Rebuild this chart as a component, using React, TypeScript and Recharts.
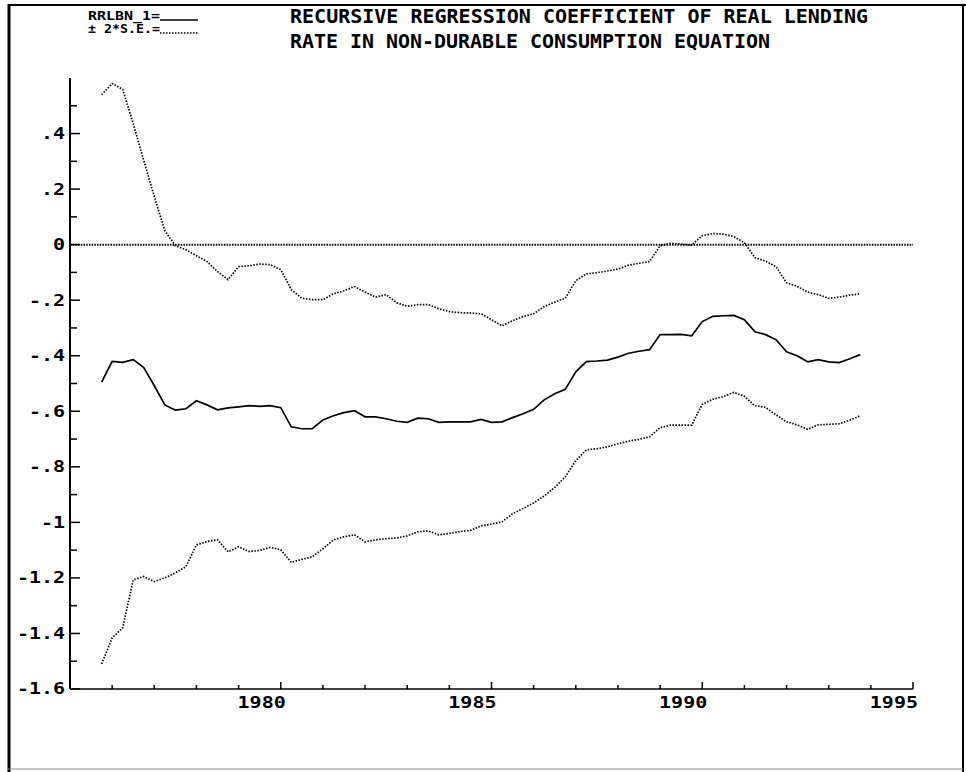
import React from 'react';
import { LineChart, Line, XAxis, YAxis, ReferenceLine } from 'recharts';

// quarterly observations, 1975Q4 .. 1993Q4
const YEARS = [
  1975.75, 1976, 1976.25, 1976.5, 1976.75, 1977, 1977.25, 1977.5, 1977.75, 1978,
  1978.25, 1978.5, 1978.75, 1979, 1979.25, 1979.5, 1979.75, 1980, 1980.25, 1980.5,
  1980.75, 1981, 1981.25, 1981.5, 1981.75, 1982, 1982.25, 1982.5, 1982.75, 1983,
  1983.25, 1983.5, 1983.75, 1984, 1984.25, 1984.5, 1984.75, 1985, 1985.25, 1985.5,
  1985.75, 1986, 1986.25, 1986.5, 1986.75, 1987, 1987.25, 1987.5, 1987.75, 1988,
  1988.25, 1988.5, 1988.75, 1989, 1989.25, 1989.5, 1989.75, 1990, 1990.25, 1990.5,
  1990.75, 1991, 1991.25, 1991.5, 1991.75, 1992, 1992.25, 1992.5, 1992.75, 1993,
  1993.25, 1993.5, 1993.75,
];

const COEF = [
  -0.495, -0.42, -0.424, -0.414, -0.443, -0.508, -0.577, -0.596, -0.591, -0.562,
  -0.577, -0.595, -0.588, -0.584, -0.58, -0.582, -0.58, -0.587, -0.656, -0.663,
  -0.663, -0.631, -0.616, -0.605, -0.598, -0.62, -0.62, -0.627, -0.636, -0.64,
  -0.625, -0.627, -0.64, -0.638, -0.638, -0.638, -0.629, -0.64, -0.638, -0.623,
  -0.609, -0.593, -0.559, -0.537, -0.521, -0.458, -0.421, -0.419, -0.416, -0.405,
  -0.391, -0.384, -0.378, -0.324, -0.324, -0.323, -0.328, -0.277, -0.258, -0.256,
  -0.255, -0.27, -0.314, -0.324, -0.342, -0.386, -0.4, -0.422, -0.414, -0.422,
  -0.425, -0.411, -0.396,
];

const UPPER = [
  0.54, 0.58, 0.559, 0.436, 0.303, 0.173, 0.05, -0.004, -0.018, -0.04,
  -0.061, -0.097, -0.126, -0.079, -0.076, -0.07, -0.072, -0.09, -0.162, -0.193,
  -0.198, -0.198, -0.177, -0.166, -0.151, -0.171, -0.189, -0.18, -0.209, -0.222,
  -0.216, -0.216, -0.231, -0.241, -0.245, -0.246, -0.249, -0.27, -0.292, -0.274,
  -0.259, -0.249, -0.223, -0.207, -0.193, -0.13, -0.105, -0.101, -0.095, -0.088,
  -0.074, -0.067, -0.061, -0.004, 0.005, 0.002, -0.002, 0.032, 0.04, 0.038,
  0.029, 0.007, -0.047, -0.059, -0.079, -0.137, -0.15, -0.171, -0.18, -0.193,
  -0.189, -0.182, -0.177,
];

const LOWER = [
  -1.51, -1.416, -1.38, -1.207, -1.195, -1.213, -1.2, -1.182, -1.16, -1.081,
  -1.069, -1.063, -1.106, -1.088, -1.105, -1.101, -1.09, -1.099, -1.144, -1.133,
  -1.124, -1.095, -1.063, -1.052, -1.045, -1.07, -1.063, -1.059, -1.056, -1.049,
  -1.034, -1.031, -1.045, -1.04, -1.033, -1.029, -1.013, -1.006, -0.998, -0.969,
  -0.95, -0.93, -0.905, -0.874, -0.836, -0.778, -0.739, -0.735, -0.728, -0.717,
  -0.708, -0.701, -0.692, -0.659, -0.65, -0.65, -0.65, -0.575, -0.557, -0.547,
  -0.532, -0.546, -0.58, -0.586, -0.613, -0.638, -0.649, -0.665, -0.649, -0.647,
  -0.645, -0.632, -0.616,
];

const Y_TICKS = [
  -1.6, -1.5, -1.4, -1.3, -1.2, -1.1, -1, -0.9, -0.8, -0.7, -0.6,
  -0.5, -0.4, -0.3, -0.2, -0.1, 0, 0.1, 0.2, 0.3, 0.4, 0.5,
];
const Y_TICK_LABELS = [
  '-1.6', '', '-1.4', '', '-1.2', '', '-1', '', '-.8', '', '-.6',
  '', '-.4', '', '-.2', '', '0', '', '.2', '', '.4', '',
];

const X_TICKS = [
  1976, 1977, 1978, 1979, 1980, 1981, 1982, 1983, 1984, 1985,
  1986, 1987, 1988, 1989, 1990, 1991, 1992, 1993, 1994, 1995,
];
const X_TICK_LABELS = [
  '', '', '', '', '1980', '', '', '', '', '1985',
  '', '', '', '', '1990', '', '', '', '', '1995',
];

const TITLE_1 = 'RECURSIVE REGRESSION COEFFICIENT OF REAL LENDING';
const TITLE_2 = 'RATE IN NON-DURABLE CONSUMPTION EQUATION';
const LEGEND_1 = 'RRLBN_1=';
const LEGEND_2 = '\u00b1 2*S.E.=';

const data = YEARS.map((t, i) => ({ t, coef: COEF[i], upper: UPPER[i], lower: LOWER[i] }));

const MONO = '"DejaVu Sans Mono", "Liberation Mono", monospace';

function YTick(props: any) {
  const { x, y, index } = props;
  const label = Y_TICK_LABELS[index];
  const len = label ? 10 : 7;
  return (
    <g>
      <line x1={x} y1={y} x2={x + len} y2={y} stroke="#000" strokeWidth={1.5} />
      {label ? (
        <text
          transform={`translate(${x - 5},${y}) scale(1,0.75)`}
          textAnchor="end"
          dy="0.36em"
          fontFamily={MONO}
          fontWeight="bold"
          fontSize={20}
          fill="#000"
        >
          {label}
        </text>
      ) : null}
    </g>
  );
}

function XTick(props: any) {
  const { x, y, index } = props;
  const label = X_TICK_LABELS[index];
  const len = label ? 7 : 4;
  return (
    <g>
      <line x1={x} y1={y} x2={x} y2={y - len} stroke="#000" strokeWidth={1.5} />
      {label ? (
        <text
          transform={`translate(${x + 5},${y + 19}) scale(1,0.8)`}
          textAnchor="end"
          fontFamily={MONO}
          fontWeight="bold"
          fontSize={20}
          fill="#000"
        >
          {label}
        </text>
      ) : null}
    </g>
  );
}

export default function App() {
  return (
    <div style={{ position: 'absolute', left: 0, top: 0, width: 966, height: 772, background: '#fff' }}>
      <LineChart
        width={966}
        height={772}
        data={data}
        margin={{ top: 78, right: 53, bottom: 43, left: 10 }}
      >
        <XAxis
          dataKey="t"
          type="number"
          domain={[1975, 1995]}
          ticks={X_TICKS}
          interval={0}
          allowDataOverflow
          height={40}
          tickSize={0}
          tickMargin={0}
          tickLine={false}
          axisLine={{ stroke: '#000', strokeWidth: 1.5 }}
          tick={<XTick />}
        />
        <YAxis
          type="number"
          domain={[-1.6, 0.6]}
          ticks={Y_TICKS}
          interval={0}
          allowDataOverflow
          width={60}
          tickSize={0}
          tickMargin={0}
          tickLine={false}
          axisLine={{ stroke: '#000', strokeWidth: 2 }}
          tick={<YTick />}
        />
        <ReferenceLine y={0} stroke="#000" strokeWidth={2} strokeDasharray="1.5 1.2" />
        <Line
          dataKey="upper"
          stroke="#000"
          strokeWidth={1.7}
          strokeDasharray="1.5 1.5"
          dot={false}
          activeDot={false}
          isAnimationActive={false}
        />
        <Line
          dataKey="lower"
          stroke="#000"
          strokeWidth={1.7}
          strokeDasharray="1.5 1.5"
          dot={false}
          activeDot={false}
          isAnimationActive={false}
        />
        <Line
          dataKey="coef"
          stroke="#000"
          strokeWidth={1.7}
          dot={false}
          activeDot={false}
          isAnimationActive={false}
        />
      </LineChart>
      <svg
        width={966}
        height={772}
        style={{ position: 'absolute', left: 0, top: 0, pointerEvents: 'none' }}
      >
        {/* frame */}
        <line x1={8} y1={5} x2={966} y2={5} stroke="#000" strokeWidth={2} />
        <line x1={9} y1={4} x2={9} y2={772} stroke="#000" strokeWidth={3} />
        <line x1={963} y1={4} x2={963} y2={772} stroke="#000" strokeWidth={2} />
        <line x1={8} y1={769} x2={963} y2={769} stroke="#888" strokeWidth={1} />
        {/* title */}
        <text x={290} y={23} textLength={578} lengthAdjust="spacingAndGlyphs" fontFamily={MONO} fontWeight="bold" fontSize={20} fill="#000">
          {TITLE_1}
        </text>
        <text x={290} y={48} textLength={480} lengthAdjust="spacingAndGlyphs" fontFamily={MONO} fontWeight="bold" fontSize={20} fill="#000">
          {TITLE_2}
        </text>
        {/* legend */}
        <text x={88} y={20} textLength={72} lengthAdjust="spacingAndGlyphs" fontFamily={MONO} fontWeight="bold" fontSize={12} fill="#000">
          {LEGEND_1}
        </text>
        <line x1={160} y1={20} x2={198} y2={20} stroke="#000" strokeWidth={1.5} />
        <text x={88} y={33} textLength={72} lengthAdjust="spacingAndGlyphs" fontFamily={MONO} fontWeight="bold" fontSize={12} fill="#000">
          {LEGEND_2}
        </text>
        <line x1={160} y1={33} x2={198} y2={33} stroke="#000" strokeWidth={1.5} strokeDasharray="1.5 1.5" />
      </svg>
    </div>
  );
}
